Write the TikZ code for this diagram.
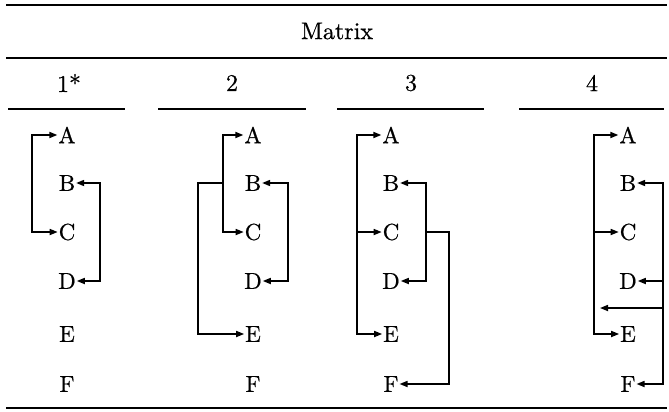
\documentclass[tikz,border=0pt]{standalone}
\usepackage{fontspec}
\newfontfamily\lmheavy{lmroman10-regular.otf}[FakeBold=0.6]
\usetikzlibrary{arrows.meta}
\begin{document}
\begin{tikzpicture}[x=1pt,y=-1pt,
  rule/.style={line width=1.6pt},
  lbl/.style={inner sep=0pt,font=\lmheavy\fontsize{24}{28}\selectfont},
  letter/.style={inner sep=0.8pt,font=\lmheavy\fontsize{23}{27}\selectfont},
  conn/.style={line width=1.6pt,{Triangle[length=8pt,width=6pt]}-{Triangle[length=8pt,width=6pt]}},
  one/.style={line width=1.6pt,-{Triangle[length=8pt,width=6pt]}}]
\useasboundingbox (0,0) rectangle (669,412);
% rules
\coordinate (t0) at (6,5);   \coordinate (t1) at (667,5);
\coordinate (m0) at (6,58);  \coordinate (m1) at (667,58);
\coordinate (b0) at (6,408); \coordinate (b1) at (667,408);
\draw[rule] (t0) -- (t1);
\draw[rule] (m0) -- (m1);
\draw[rule] (b0) -- (b1);
\coordinate (s1a) at (8,109);   \coordinate (s1b) at (125,109);
\coordinate (s2a) at (158,109); \coordinate (s2b) at (306,109);
\coordinate (s3a) at (337,109); \coordinate (s3b) at (484,109);
\coordinate (s4a) at (519,109); \coordinate (s4b) at (664,109);
\draw[rule] (s1a) -- (s1b);
\draw[rule] (s2a) -- (s2b);
\draw[rule] (s3a) -- (s3b);
\draw[rule] (s4a) -- (s4b);
% headings
\node[lbl] (mat) at (337,31) {Matrix};
\node[lbl] (h1) at (69,83) {1*};
\node[lbl] (h2) at (232,83) {2};
\node[lbl] (h3) at (411,83) {3};
\node[lbl] (h4) at (592,83) {4};
% letters
\foreach \p/\x in {1/67,2/253,3/391,4/628}{
  \node[letter] (A\p) at (\x,135) {A};
  \node[letter] (B\p) at (\x,183) {B};
  \node[letter] (C\p) at (\x,232) {C};
  \node[letter] (D\p) at (\x,281) {D};
  \node[letter] (E\p) at (\x,334) {E};
  \node[letter] (F\p) at (\x,384) {F};
}
% bracket x positions
\coordinate (x1l) at (32,0);  \coordinate (x1r) at (100,0);
\coordinate (x2i) at (223,0); \coordinate (x2o) at (198,0); \coordinate (x2r) at (288,0);
\coordinate (x3l) at (357,0); \coordinate (x3r) at (426,0); \coordinate (x3f) at (449,0);
\coordinate (x4l) at (594,0); \coordinate (x4r) at (663,0);
% panel 1
\draw[conn] (A1.west) -- (A1.west -| x1l) |- (C1.west);
\draw[conn] (B1.east) -- (B1.east -| x1r) |- (D1.east);
% panel 2
\draw[conn] (A2.west) -- (A2.west -| x2i) |- (C2.west);
\coordinate (j2) at (B2.west -| x2i);
\draw[one] (j2) -- (j2 -| x2o) |- (E2.west);
\draw[conn] (B2.east) -- (B2.east -| x2r) |- (D2.east);
% panel 3
\draw[conn] (A3.west) -- (A3.west -| x3l) |- (E3.west);
\draw[one] (C3.west -| x3l) -- (C3.west);
\draw[conn] (B3.east) -- (B3.east -| x3r) |- (D3.east);
\coordinate (j3) at (C3.east -| x3r);
\draw[one] (j3) -- (j3 -| x3f) |- (F3.east);
% panel 4
\draw[conn] (A4.west) -- (A4.west -| x4l) |- (E4.west);
\draw[one] (C4.west -| x4l) -- (C4.west);
\draw[conn] (B4.east) -- (B4.east -| x4r) |- (F4.east);
\draw[one] (D4.east -| x4r) -- (D4.east);
\coordinate (k4) at (600,308);
\draw[one] (k4 -| x4r) -- (k4);
\end{tikzpicture}
\end{document}
